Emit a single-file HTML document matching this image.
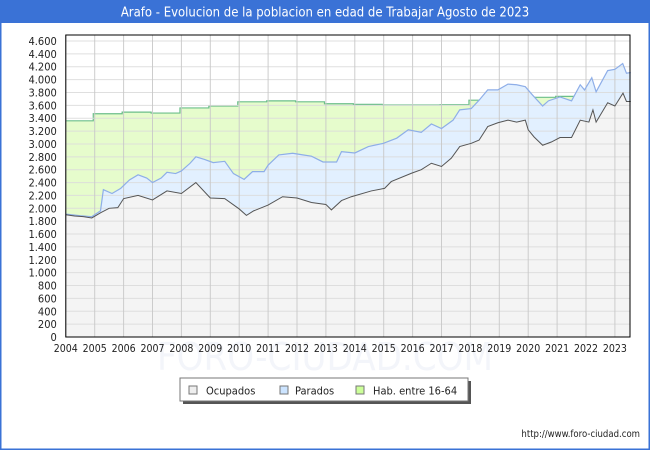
<!DOCTYPE html>
<html><head><meta charset="utf-8"><style>
body{margin:0;width:650px;height:450px;overflow:hidden;background:#fff;font-family:"DejaVu Sans Condensed","DejaVu Sans","Liberation Sans",sans-serif}
svg text{font-family:"DejaVu Sans Condensed","DejaVu Sans","Liberation Sans",sans-serif;font-stretch:condensed}
</style></head><body>
<svg width="650" height="450" xmlns="http://www.w3.org/2000/svg">
<rect x="0.5" y="0.5" width="649" height="449" fill="#fff" stroke="#3a72d6" stroke-width="2"/>
<rect x="0" y="0" width="650" height="23" fill="#3a72d6"/>
<text x="325" y="16.5" text-anchor="middle" font-size="13" fill="#fff">Arafo - Evolucion de la poblacion en edad de Trabajar Agosto de 2023</text>
<text x="325" y="370" text-anchor="middle" font-size="38" fill="#f3f5fa">FORO-CIUDAD.COM</text>
<g id="plot"></g>
<g>
<rect x="183" y="381" width="288" height="23" fill="#555"/>
<rect x="180" y="378" width="288" height="23" fill="#fff" stroke="#777"/>
<rect x="189" y="386" width="8" height="8" fill="#eee" stroke="#777"/>
<text x="206" y="394.5" font-size="11" fill="#222">Ocupados</text>
<rect x="280" y="386" width="8" height="8" fill="#cce4ff" stroke="#777"/>
<text x="295" y="394.5" font-size="11" fill="#222">Parados</text>
<rect x="356" y="386" width="8" height="8" fill="#ccff99" stroke="#777"/>
<text x="373" y="394.5" font-size="11" fill="#222">Hab. entre 16-64</text>
</g>
<text x="640" y="437" text-anchor="end" font-size="9.5" fill="#222">http://www.foro-ciudad.com</text>
</svg>
<script>
const yearTicks=[2004,2005,2006,2007,2008,2009,2010,2011,2012,2013,2014,2015,2016,2017,2018,2019,2020,2021,2022,2023];
const yTicks=[0,200,400,600,800,1000,1200,1400,1600,1800,2000,2200,2400,2600,2800,3000,3200,3400,3600,3800,4000,4200,4400,4600];
const yTickLabels=["0","200","400","600","800","1.000","1.200","1.400","1.600","1.800","2.000","2.200","2.400","2.600","2.800","3.000","3.200","3.400","3.600","3.800","4.000","4.200","4.400","4.600"];
const habYears=[2004,2005,2006,2007,2008,2009,2010,2011,2012,2013,2014,2015,2016,2017,2018,2019,2020,2021,2022,2023];
const habValues=[3360,3470,3495,3480,3560,3590,3655,3670,3655,3625,3615,3605,3605,3610,3680,3700,3725,3740,3760,3780];
const ocuT=[2004,2004.3,2004.6,2004.9,2005.2,2005.5,2005.8,2006,2006.5,2007,2007.5,2008,2008.5,2009,2009.5,2010,2010.25,2010.5,2011,2011.5,2012,2012.5,2013,2013.19,2013.54,2013.88,2014.57,2015.03,2015.26,2015.96,2016.3,2016.65,2017,2017.34,2017.63,2018.03,2018.3,2018.6,2018.95,2019.3,2019.6,2019.9,2020,2020.2,2020.5,2020.8,2021.1,2021.5,2021.8,2022.1,2022.24,2022.35,2022.75,2023,2023.28,2023.4,2023.55];
const ocuV=[1900,1880,1870,1850,1930,2000,2010,2150,2200,2130,2270,2230,2400,2160,2150,1990,1890,1960,2050,2180,2160,2090,2060,1975,2120,2180,2270,2310,2415,2545,2600,2700,2650,2780,2960,3010,3060,3270,3330,3370,3340,3370,3220,3110,2980,3030,3100,3100,3370,3340,3530,3340,3640,3590,3790,3660,3660];
const actT=[2004,2004.5,2004.9,2005.2,2005.3,2005.6,2005.9,2006.2,2006.5,2006.8,2007,2007.3,2007.5,2007.8,2008,2008.3,2008.5,2008.8,2009.1,2009.5,2009.8,2010.17,2010.46,2010.86,2011,2011.37,2011.85,2012.2,2012.5,2012.9,2013.37,2013.54,2014,2014.47,2014.99,2015.45,2015.85,2016.3,2016.65,2017,2017.4,2017.63,2018.03,2018.3,2018.6,2018.95,2019.3,2019.6,2019.9,2020.15,2020.5,2020.7,2021.1,2021.5,2021.8,2021.95,2022.2,2022.35,2022.75,2023,2023.27,2023.4,2023.55];
const actV=[1910,1885,1870,1960,2290,2230,2310,2440,2520,2470,2400,2470,2560,2540,2580,2700,2800,2760,2710,2730,2540,2450,2570,2570,2670,2830,2855,2830,2810,2720,2720,2880,2860,2960,3010,3090,3220,3180,3310,3240,3370,3530,3550,3680,3840,3840,3930,3920,3890,3760,3590,3670,3730,3670,3920,3840,4030,3810,4140,4160,4250,4100,4110];
const L=65.8,R=630,T=35,B=337,pxYr=28.9,pxU=(337-41)/4600;
const X=t=>L+(t-2004)*pxYr, Y=v=>B-v*pxU;
const NS="http://www.w3.org/2000/svg",g=document.getElementById('plot');
function mk(tag,a){const e=document.createElementNS(NS,tag);for(const k in a)e.setAttribute(k,a[k]);g.appendChild(e);return e;}
let bg=mk('rect',{x:L,y:T,width:R-L,height:B-T,fill:'#fff'});


const xEnd=2004+(R-L)/pxYr;
let hp=[];habYears.forEach((yr,i)=>{const a=Math.max(yr-0.05,2004),b=Math.min(yr+0.95,xEnd);hp.push([X(a),Y(habValues[i])],[X(b),Y(habValues[i])]);});
const habLine=hp.map(p=>p.join(',')).join(' ');
let habArea=mk('polygon',{points:`${X(2004)},${B} `+habLine+` ${R},${B}`,fill:'#e6fccc'});


const actLine=actT.map((t,i)=>X(t)+','+Y(actV[i])).join(' ');
let actArea=mk('polygon',{points:`${X(2004)},${B} `+actLine+` ${R},${B}`,fill:'#e2f0ff'});


const ocuLine=ocuT.map((t,i)=>X(t)+','+Y(ocuV[i])).join(' ');
let ocuArea=mk('polygon',{points:`${X(2004)},${B} `+ocuLine+` ${R},${B}`,fill:'#f4f4f4'});


let hl=mk('polyline',{points:habLine,fill:'none',stroke:'#6cbf8a','stroke-width':1.2});


// re-cover hab line where blue area exceeds it
let actArea2=mk('polygon',{points:`${X(2004)},${B} `+actLine+` ${R},${B}`,fill:'#e2f0ff'});


let ocuArea2=mk('polygon',{points:`${X(2004)},${B} `+ocuLine+` ${R},${B}`,fill:'#f4f4f4'});


yTicks.forEach((v,i)=>{
 let l=mk('line',{x1:L,x2:R,y1:Y(v),y2:Y(v),stroke:'#dcdcdc','stroke-width':1,'stroke-opacity':0.9});
 
 
 let t=mk('text',{x:L-9,y:Y(v)+4,'text-anchor':'end','font-size':11,fill:'#222'});
 t.textContent=yTickLabels[i];
 
 
});
yearTicks.forEach(yr=>{
 let l=mk('line',{x1:X(yr),x2:X(yr),y1:T,y2:B,stroke:'#c8c8c8','stroke-width':1,'stroke-opacity':0.9});
 
 
 let t=mk('text',{x:X(yr),y:B+15,'text-anchor':'middle','font-size':10.5,fill:'#222'});
 t.textContent=yr;
 
 
});
let al=mk('polyline',{points:actLine,fill:'none',stroke:'#8eaee8','stroke-width':1.2});


let ol=mk('polyline',{points:ocuLine,fill:'none',stroke:'#555','stroke-width':1});


let fr=mk('rect',{x:L,y:T,width:R-L,height:B-T,fill:'none',stroke:'#000','stroke-width':1});


</script>
</body></html>
